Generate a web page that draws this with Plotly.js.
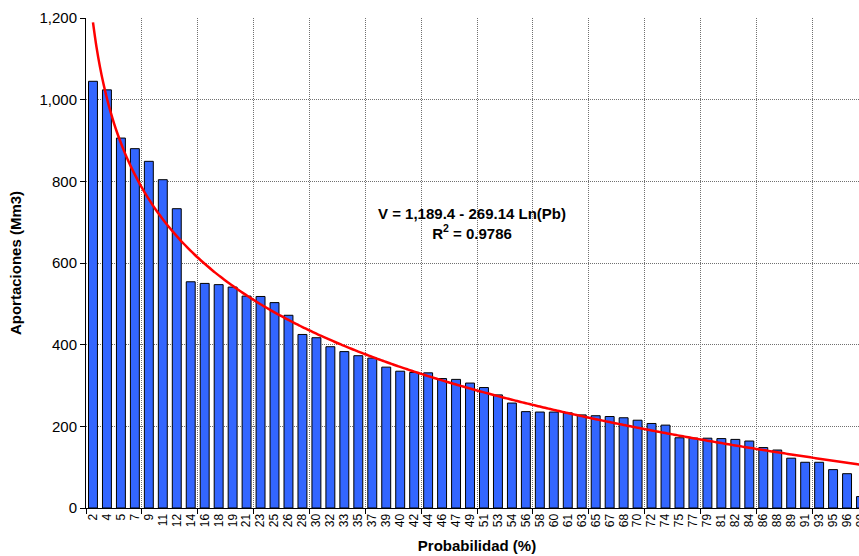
<!DOCTYPE html>
<html>
<head>
<meta charset="utf-8">
<script src="https://cdn.plot.ly/plotly-3.0.1.min.js"></script>
<style>
html, body { margin: 0; padding: 0; overflow: hidden; background: #fff; }
#chart { width: 880px; height: 556px; }
</style>
</head>
<body>
<div id="chart"></div>
<script>
// Probability (%) category labels
const probLabels = ['2','4','5','7','9','11','12','14','16','18','19','21','23','25','26','28',
  '30','32','33','35','37','39','40','42','44','46','47','49','51','53','54','56','58','60',
  '61','63','65','67','68','70','72','74','75','77','79','81','82','84','86','88','89','91',
  '93','95','96','98'];

// Aportaciones (Mm3) per category
const aportaciones = [1045,1024,906,880,849,804,733,554,550,547,541,519,518,503,472,425,
  417,395,383,373,367,345,335,332,331,317,315,306,295,277,257,236,235,235,233,228,226,224,
  221,215,207,203,172,171,171,170,168,164,148,142,122,112,112,94,84,28];

// Logarithmic trendline coefficients as printed on the chart
const trendIntercept = 1189.4;
const trendSlope = 269.14;
const trendR2 = 0.9786;

const idx = probLabels.map((_, i) => i + 1);

// Trendline sampled along the category index (Excel log trend uses x = 1..n)
const trendX = [];
const trendY = [];
for (let x = 1; x <= probLabels.length; x += 0.25) {
  trendX.push(x);
  trendY.push(trendIntercept - trendSlope * Math.log(x));
}

const FONT = 'Liberation Sans, Arial, sans-serif';

const bars = {
  type: 'bar',
  x: idx,
  y: aportaciones,
  width: 0.64,
  marker: { color: '#3366FF', line: { color: '#000000', width: 1 } },
  hoverinfo: 'x+y'
};

const trend = {
  type: 'scatter',
  mode: 'lines',
  x: trendX,
  y: trendY,
  line: { color: '#FF0000', width: 2.5, shape: 'spline' },
  hoverinfo: 'skip'
};

const layout = {
  width: 880,
  height: 556,
  margin: { l: 86, r: 12, t: 18, b: 48 },
  paper_bgcolor: '#ffffff',
  plot_bgcolor: '#ffffff',
  showlegend: false,
  font: { family: FONT, color: '#000' },
  xaxis: {
    type: 'linear',
    range: [0.5, probLabels.length + 0.5],
    tickmode: 'array',
    tickvals: idx,
    ticktext: probLabels,
    tickangle: -90,
    ticks: '',
    tickfont: { size: 12, family: FONT, color: '#000' },
    showgrid: false,
    zeroline: false,
    showline: true,
    linecolor: '#000',
    linewidth: 1,
    minor: {
      tickmode: 'linear',
      tick0: 0.5,
      dtick: 4,
      ticks: 'outside',
      ticklen: 5,
      tickcolor: '#000',
      tickwidth: 1,
      showgrid: true,
      gridcolor: '#707070',
      gridwidth: 1,
      griddash: '1px,1px'
    },
    title: { text: 'Probabilidad (%)', font: { size: 15, family: FONT, weight: 'bold', color: '#000' }, standoff: 14 },
    automargin: false,
    fixedrange: true
  },
  yaxis: {
    range: [0, 1200],
    tickmode: 'linear',
    tick0: 0,
    dtick: 200,
    tickformat: ',',
    ticks: 'outside',
    ticklen: 5,
    tickcolor: '#000',
    tickfont: { size: 15, family: FONT, color: '#000' },
    showgrid: true,
    gridcolor: '#707070',
    gridwidth: 1,
    griddash: '1px,1px',
    zeroline: false,
    showline: true,
    linecolor: '#000',
    linewidth: 1,
    title: { text: 'Aportaciones (Mm3)', font: { size: 15, family: FONT, weight: 'bold', color: '#000' }, standoff: 14 },
    automargin: false,
    fixedrange: true
  },
  annotations: [{
    xref: 'paper', yref: 'paper',
    x: 0.493, y: 0.58,
    xanchor: 'center', yanchor: 'middle',
    showarrow: false,
    align: 'center',
    text: 'V = ' + trendIntercept.toLocaleString('en-US', {minimumFractionDigits: 1}) +
          ' - ' + trendSlope.toFixed(2) + ' Ln(Pb)<br>R<sup>2</sup> = ' + trendR2.toFixed(4),
    font: { size: 15, family: FONT, weight: 'bold', color: '#000' }
  }]
};

Plotly.newPlot('chart', [bars, trend], layout, { displayModeBar: false, staticPlot: true });
</script>
</body>
</html>
